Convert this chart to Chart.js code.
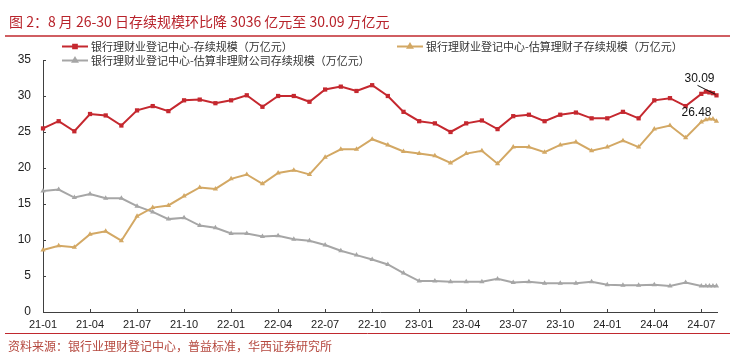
<!DOCTYPE html>
<html>
<head>
<meta charset="utf-8">
<script src="https://cdn.jsdelivr.net/npm/chart.js@4.4.1/dist/chart.umd.min.js"></script>
<style>
  html, body { margin: 0; padding: 0; background: #fff; }
  #wrap { width: 735px; height: 355px; position: relative; }
</style>
</head>
<body>
<div id="wrap"><canvas id="c" width="735" height="355"></canvas></div>
<script>
// ---------- data ----------
const titleText = '图 2：8 月 26-30 日存续规模环比降 3036 亿元至 30.09 万亿元';
const sourceText = '资料来源：银行业理财登记中心，普益标准，华西证券研究所';
const seriesNames = [
  '银行理财业登记中心-存续规模（万亿元）',
  '银行理财业登记中心-估算理财子存续规模（万亿元）',
  '银行理财业登记中心-估算非理财公司存续规模（万亿元）'
];
// monthly periods 2021-01 .. 2024-07, then weekly points in August 2024
const periods = [
  '2021-01','2021-02','2021-03','2021-04','2021-05','2021-06','2021-07','2021-08','2021-09','2021-10','2021-11','2021-12',
  '2022-01','2022-02','2022-03','2022-04','2022-05','2022-06','2022-07','2022-08','2022-09','2022-10','2022-11','2022-12',
  '2023-01','2023-02','2023-03','2023-04','2023-05','2023-06','2023-07','2023-08','2023-09','2023-10','2023-11','2023-12',
  '2024-01','2024-02','2024-03','2024-04','2024-05','2024-06','2024-07',
  '2024-08-09','2024-08-16','2024-08-23','2024-08-30'
];
const totalScale = [
  25.5,26.5,25.1,27.5,27.3,25.9,28.0,28.6,27.9,29.4,29.5,29.0,
  29.4,30.1,28.5,30.0,30.0,29.2,30.9,31.3,30.7,31.5,30.0,27.8,
  26.5,26.2,25.0,26.2,26.6,25.4,27.2,27.4,26.5,27.4,27.7,26.9,
  26.9,27.8,26.9,29.4,29.7,28.6,30.3,
  30.6,30.5,30.39,30.09
];
const subsidiaryScale = [
  8.6,9.2,9.0,10.8,11.2,9.9,13.3,14.5,14.8,16.1,17.3,17.1,
  18.5,19.1,17.8,19.3,19.7,19.1,21.5,22.6,22.6,24.0,23.2,22.3,
  22.0,21.7,20.7,22.0,22.4,20.6,22.9,22.9,22.2,23.2,23.6,22.4,
  22.9,23.8,22.9,25.4,25.9,24.2,26.4,
  26.7,26.8,26.8,26.48
];
const otherScale = [
  16.8,17.0,15.9,16.4,15.8,15.8,14.7,13.9,12.9,13.1,12.0,11.7,
  10.9,10.9,10.5,10.6,10.1,9.9,9.3,8.5,7.9,7.3,6.6,5.4,
  4.3,4.3,4.2,4.2,4.2,4.6,4.1,4.2,4.0,4.0,4.0,4.2,
  3.8,3.7,3.7,3.8,3.6,4.1,3.6,
  3.6,3.6,3.6,3.6
];
const xTickLabels = ['21-01','21-04','21-07','21-10','22-01','22-04','22-07','22-10','23-01','23-04','23-07','23-10','24-01','24-04','24-07'];

// ---------- helpers ----------
function xOf(d) {
  const p = d.split('-').map(Number);
  const base = (p[0] - 2021) * 12 + (p[1] - 1);
  if (p.length < 3) return base;
  const dim = new Date(p[0], p[1], 0).getDate();
  return base - 1 + p[2] / dim;
}
const toPts = arr => arr.map((v, i) => ({ x: xOf(periods[i]), y: v }));

const RED = '#C5282F', GOLD = '#D3A864', GRAY = '#A6A6A6', AXIS = '#404040';
const NUMFONT = '"Liberation Sans", Arial, sans-serif';
const CJKFONT = '"Noto Sans CJK SC", "Noto Sans", sans-serif';

const decor = {
  id: 'decor',
  afterDraw(chart) {
    const ctx = chart.ctx;
    const ca = chart.chartArea;
    ctx.save();
    // title
    ctx.fillStyle = '#B8232B';
    ctx.textBaseline = 'middle';
    ctx.textAlign = 'left';
    ctx.font = '14px ' + CJKFONT;
    ctx.fillText(titleText, 9, 22);
    // red rules
    ctx.strokeStyle = '#C0282E';
    ctx.lineWidth = 1.5;
    ctx.beginPath(); ctx.moveTo(5, 36); ctx.lineTo(730, 36); ctx.stroke();
    ctx.lineWidth = 1;
    ctx.beginPath(); ctx.moveTo(5, 333.5); ctx.lineTo(730, 333.5); ctx.stroke();
    // source
    ctx.fillStyle = '#B5483E';
    ctx.font = '12px ' + CJKFONT;
    ctx.fillText(sourceText, 8, 346);

    // legend
    const items = [
      { x: 62, y: 46.5, ds: 0 },
      { x: 397, y: 46.5, ds: 1 },
      { x: 62, y: 60.5, ds: 2 }
    ];
    ctx.font = '11px ' + CJKFONT;
    items.forEach(it => {
      const ds = chart.data.datasets[it.ds];
      ctx.strokeStyle = ds.borderColor;
      ctx.lineWidth = 2;
      ctx.beginPath(); ctx.moveTo(it.x, it.y); ctx.lineTo(it.x + 26, it.y); ctx.stroke();
      Chart.helpers.drawPoint(ctx, { pointStyle: ds.pointStyle, radius: 2.6, borderWidth: 1 }, it.x + 13, it.y);
      ctx.fillStyle = ds.borderColor;
      Chart.helpers.drawPoint(ctx, { pointStyle: ds.pointStyle, radius: 2.6, borderWidth: 0 }, it.x + 13, it.y);
      ctx.fillStyle = '#333';
      ctx.fillText(ds.label, it.x + 29, it.y);
    });

    // inward tick marks
    const xs = chart.scales.x, ys = chart.scales.y;
    ctx.strokeStyle = AXIS;
    ctx.lineWidth = 1;
    ctx.beginPath();
    xs.ticks.forEach(t => {
      const px = Math.round(xs.getPixelForValue(t.value)) + 0.5;
      ctx.moveTo(px, ca.bottom); ctx.lineTo(px, ca.bottom - 3);
    });
    ys.ticks.forEach(t => {
      const py = Math.round(ys.getPixelForValue(t.value)) + 0.5;
      ctx.moveTo(ca.left, py); ctx.lineTo(ca.left + 3, py);
    });
    ctx.stroke();

    // data labels for the latest values
    ctx.fillStyle = '#111';
    ctx.font = '12px ' + NUMFONT;
    ctx.textAlign = 'center';
    const m0 = chart.getDatasetMeta(0).data;
    const p0 = m0[m0.length - 1];
    const v0 = totalScale[totalScale.length - 1];
    ctx.fillText(v0.toFixed(2), p0.x - 17, p0.y - 17);
    ctx.strokeStyle = '#111';
    ctx.beginPath(); ctx.moveTo(p0.x - 19, p0.y - 10); ctx.lineTo(p0.x - 1, p0.y - 1); ctx.stroke();
    const m1 = chart.getDatasetMeta(1).data;
    const p1 = m1[m1.length - 1];
    const v1 = subsidiaryScale[subsidiaryScale.length - 1];
    ctx.fillText(v1.toFixed(2), p1.x - 20, p1.y - 9);
    ctx.restore();
  }
};

new Chart(document.getElementById('c'), {
  type: 'line',
  data: {
    datasets: [
      { label: seriesNames[0], data: toPts(totalScale), borderColor: RED, backgroundColor: RED,
        pointStyle: 'rect', pointRadius: 3, borderWidth: 2, pointBorderWidth: 0 },
      { label: seriesNames[1], data: toPts(subsidiaryScale), borderColor: GOLD, backgroundColor: GOLD,
        pointStyle: 'triangle', pointRadius: 3, borderWidth: 2, pointBorderWidth: 0 },
      { label: seriesNames[2], data: toPts(otherScale), borderColor: GRAY, backgroundColor: GRAY,
        pointStyle: 'triangle', pointRadius: 3, borderWidth: 2, pointBorderWidth: 0 }
    ]
  },
  options: {
    responsive: false,
    devicePixelRatio: 1,
    animation: false,
    clip: false,
    layout: { padding: { left: 0, top: 60, right: 18, bottom: 0 } },
    plugins: { legend: { display: false }, tooltip: { enabled: false } },
    elements: { line: { tension: 0 } },
    scales: {
      x: {
        type: 'linear', min: 0, max: 43,
        afterFit: s => { s.height = 43; },
        afterBuildTicks: s => { s.ticks = xTickLabels.map(l => ({ value: xOf('20' + l) })); },
        ticks: {
          autoSkip: false, maxRotation: 0, padding: 6, color: '#222',
          font: { family: NUMFONT, size: 11 },
          callback: (v, i) => xTickLabels[i]
        },
        grid: { display: false, drawTicks: false },
        border: { display: true, color: AXIS, width: 1 }
      },
      y: {
        min: 0, max: 35,
        afterFit: s => { s.width = 43; },
        ticks: { stepSize: 5, padding: 12, color: '#222', font: { family: NUMFONT, size: 12 } },
        grid: { display: false, drawTicks: false },
        border: { display: true, color: AXIS, width: 1 }
      }
    }
  },
  plugins: [decor]
});
</script>
</body>
</html>
